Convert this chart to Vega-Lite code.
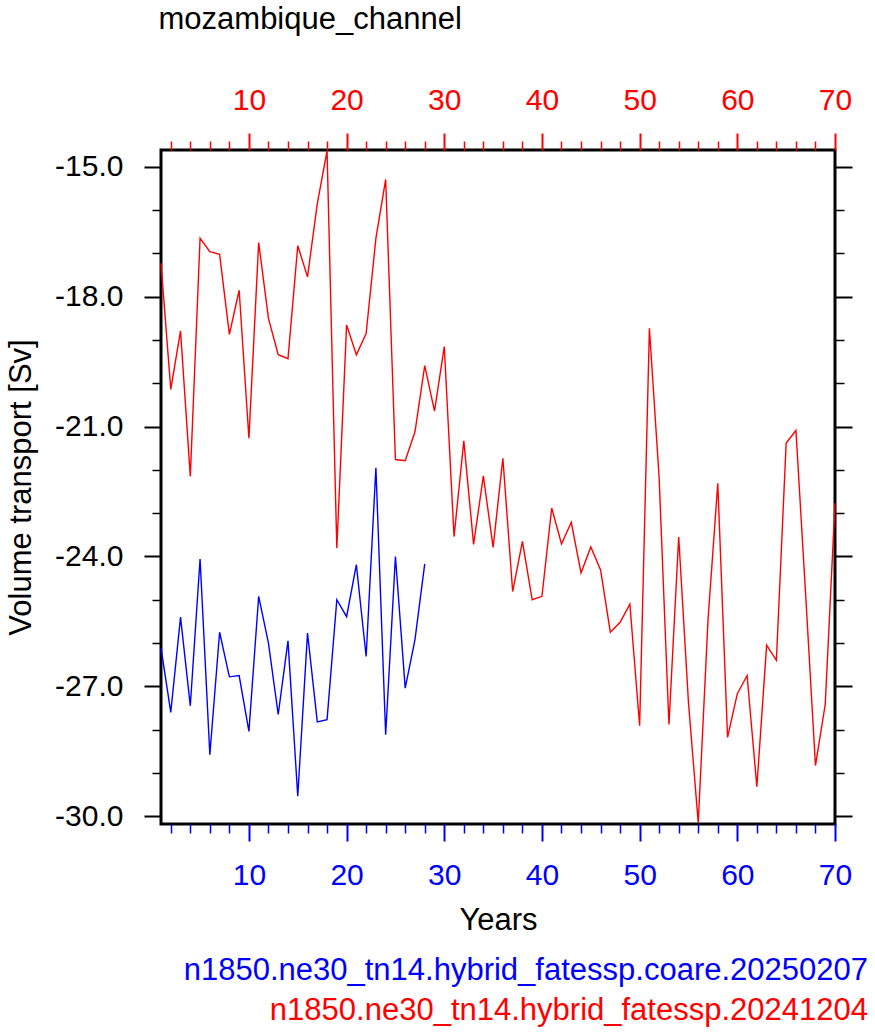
{
  "$schema": "https://vega.github.io/schema/vega-lite/v6.json",
  "autosize": {"type": "none"},
  "width": 674,
  "height": 674,
  "padding": {"left": 161, "top": 150, "right": 40, "bottom": 212},
  "background": "white",
  "config": {
    "view": {"stroke": "black", "strokeWidth": 3},
    "font": "Liberation Sans"
  },
  "title": {
    "text": "n1850.ne30_tn14.hybrid_fatessp.coare.20250207",
    "subtitle": "n1850.ne30_tn14.hybrid_fatessp.20241204",
    "orient": "bottom",
    "anchor": "end",
    "frame": "group",
    "color": "#0000ff",
    "subtitleColor": "#ff0000",
    "font": "Liberation Sans",
    "subtitleFont": "Liberation Sans",
    "fontSize": 31,
    "subtitleFontSize": 31,
    "fontWeight": "normal",
    "subtitleFontWeight": "normal",
    "dx": 33,
    "offset": 21,
    "subtitlePadding": 9
  },
  "datasets": {
    "coare": [
      {"year": 1, "transport": -26.11}, {"year": 2, "transport": -27.60}, {"year": 3, "transport": -25.40},
      {"year": 4, "transport": -27.45}, {"year": 5, "transport": -24.06}, {"year": 6, "transport": -28.58},
      {"year": 7, "transport": -25.75}, {"year": 8, "transport": -26.78}, {"year": 9, "transport": -26.75},
      {"year": 10, "transport": -28.04}, {"year": 11, "transport": -24.92}, {"year": 12, "transport": -26.00},
      {"year": 13, "transport": -27.65}, {"year": 14, "transport": -25.95}, {"year": 15, "transport": -29.54},
      {"year": 16, "transport": -25.77}, {"year": 17, "transport": -27.82}, {"year": 18, "transport": -27.77},
      {"year": 19, "transport": -25.00}, {"year": 20, "transport": -25.39}, {"year": 21, "transport": -24.19},
      {"year": 22, "transport": -26.31}, {"year": 23, "transport": -21.95}, {"year": 24, "transport": -28.12},
      {"year": 25, "transport": -24.00}, {"year": 26, "transport": -27.04}, {"year": 27, "transport": -25.92},
      {"year": 28, "transport": -24.17}
    ],
    "ref": [
      {"year": 1, "transport": -17.23}, {"year": 2, "transport": -20.14}, {"year": 3, "transport": -18.79},
      {"year": 4, "transport": -22.15}, {"year": 5, "transport": -16.65}, {"year": 6, "transport": -16.96},
      {"year": 7, "transport": -17.02}, {"year": 8, "transport": -18.87}, {"year": 9, "transport": -17.85},
      {"year": 10, "transport": -21.27}, {"year": 11, "transport": -16.75}, {"year": 12, "transport": -18.50},
      {"year": 13, "transport": -19.34}, {"year": 14, "transport": -19.43}, {"year": 15, "transport": -16.82},
      {"year": 16, "transport": -17.54}, {"year": 17, "transport": -15.85}, {"year": 18, "transport": -14.63},
      {"year": 19, "transport": -23.81}, {"year": 20, "transport": -18.65}, {"year": 21, "transport": -19.34},
      {"year": 22, "transport": -18.85}, {"year": 23, "transport": -16.65}, {"year": 24, "transport": -15.29},
      {"year": 25, "transport": -21.76}, {"year": 26, "transport": -21.79}, {"year": 27, "transport": -21.12},
      {"year": 28, "transport": -19.59}, {"year": 29, "transport": -20.64}, {"year": 30, "transport": -19.15},
      {"year": 31, "transport": -23.54}, {"year": 32, "transport": -21.33}, {"year": 33, "transport": -23.72},
      {"year": 34, "transport": -22.14}, {"year": 35, "transport": -23.79}, {"year": 36, "transport": -21.73},
      {"year": 37, "transport": -24.81}, {"year": 38, "transport": -23.65}, {"year": 39, "transport": -25.00},
      {"year": 40, "transport": -24.92}, {"year": 41, "transport": -22.88}, {"year": 42, "transport": -23.71},
      {"year": 43, "transport": -23.21}, {"year": 44, "transport": -24.38}, {"year": 45, "transport": -23.78},
      {"year": 46, "transport": -24.31}, {"year": 47, "transport": -25.75}, {"year": 48, "transport": -25.52},
      {"year": 49, "transport": -25.10}, {"year": 50, "transport": -27.91}, {"year": 51, "transport": -18.73},
      {"year": 52, "transport": -22.20}, {"year": 53, "transport": -27.88}, {"year": 54, "transport": -23.55},
      {"year": 55, "transport": -27.38}, {"year": 56, "transport": -30.15}, {"year": 57, "transport": -25.46},
      {"year": 58, "transport": -22.31}, {"year": 59, "transport": -28.18}, {"year": 60, "transport": -27.17},
      {"year": 61, "transport": -26.75}, {"year": 62, "transport": -29.32}, {"year": 63, "transport": -26.05},
      {"year": 64, "transport": -26.40}, {"year": 65, "transport": -21.38}, {"year": 66, "transport": -21.09},
      {"year": 67, "transport": -24.90}, {"year": 68, "transport": -28.83}, {"year": 69, "transport": -27.42},
      {"year": 70, "transport": -22.77}
    ]
  },
  "layer": [
    {
      "data": {"name": "coare"},
      "mark": {"type": "line", "color": "#0000ff", "strokeWidth": 1.4},
      "encoding": {
        "x": {
          "field": "year", "type": "quantitative",
          "scale": {"domain": [1, 70], "nice": false, "zero": false},
          "axis": {
            "orient": "bottom",
            "values": [2,4,6,8,10,12,14,16,18,20,22,24,26,28,30,32,34,36,38,40,42,44,46,48,50,52,54,56,58,60,62,64,66,68,70],
            "domain": false, "grid": false,
            "tickColor": "#0000ff",
            "tickSize": {"condition": {"test": "datum.value % 10 === 0", "value": 17}, "value": 9},
            "tickWidth": {"condition": {"test": "datum.value % 10 === 0", "value": 2}, "value": 1.5},
            "labelExpr": "datum.value % 10 === 0 ? datum.label : ''",
            "labelColor": "#0000ff", "labelFontSize": 30, "labelFont": "Liberation Sans",
            "labelPadding": 19, "labelOverlap": false, "labelFlush": false,
            "title": "Years", "titleFontSize": 31, "titleFontWeight": "normal", "titleColor": "black",
            "titleFont": "Liberation Sans", "titlePadding": 15
          }
        },
        "y": {
          "field": "transport", "type": "quantitative",
          "scale": {"domain": [-30.18, -14.61], "nice": false, "zero": false},
          "axis": {
            "orient": "left",
            "values": [-30,-29,-28,-27,-26,-25,-24,-23,-22,-21,-20,-19,-18,-17,-16,-15],
            "domain": false, "grid": false,
            "tickColor": "black",
            "tickSize": {"condition": {"test": "datum.value % 3 === 0", "value": 17}, "value": 9},
            "tickWidth": {"condition": {"test": "datum.value % 3 === 0", "value": 2}, "value": 1.5},
            "labelExpr": "datum.value % 3 === 0 ? (datum.value + '.0') : ''",
            "labelColor": "black", "labelFontSize": 30, "labelFont": "Liberation Sans",
            "labelPadding": 21, "labelOverlap": false,
            "title": "Volume transport [Sv]", "titleFontSize": 31, "titleFontWeight": "normal", "titleColor": "black",
            "titleFont": "Liberation Sans", "titlePadding": 17
          }
        }
      }
    },
    {
      "data": {"name": "ref"},
      "mark": {"type": "line", "color": "#ff0000", "strokeWidth": 1.4},
      "encoding": {
        "x": {
          "field": "year", "type": "quantitative",
          "axis": {
            "orient": "top",
            "values": [2,4,6,8,10,12,14,16,18,20,22,24,26,28,30,32,34,36,38,40,42,44,46,48,50,52,54,56,58,60,62,64,66,68,70],
            "domain": false, "grid": false,
            "tickColor": "#ff0000",
            "tickSize": {"condition": {"test": "datum.value % 10 === 0", "value": 17}, "value": 9},
            "tickWidth": {"condition": {"test": "datum.value % 10 === 0", "value": 2}, "value": 1.5},
            "labelExpr": "datum.value % 10 === 0 ? datum.label : ''",
            "labelColor": "#ff0000", "labelFontSize": 30, "labelFont": "Liberation Sans",
            "labelPadding": 18, "labelOverlap": false, "labelFlush": false,
            "title": "mozambique_channel", "titleAnchor": "start", "titleFontSize": 31, "titleFontWeight": "normal",
            "titleColor": "black", "titleFont": "Liberation Sans", "titlePadding": 50, "titleX": -3
          }
        },
        "y": {
          "field": "transport", "type": "quantitative",
          "axis": {
            "orient": "right",
            "values": [-30,-29,-28,-27,-26,-25,-24,-23,-22,-21,-20,-19,-18,-17,-16,-15],
            "domain": false, "grid": false, "labels": false, "title": null,
            "tickColor": "black",
            "tickSize": {"condition": {"test": "datum.value % 3 === 0", "value": 17}, "value": 9},
            "tickWidth": {"condition": {"test": "datum.value % 3 === 0", "value": 2}, "value": 1.5}
          }
        }
      }
    }
  ],
  "resolve": {"axis": {"x": "independent", "y": "independent"}}
}
